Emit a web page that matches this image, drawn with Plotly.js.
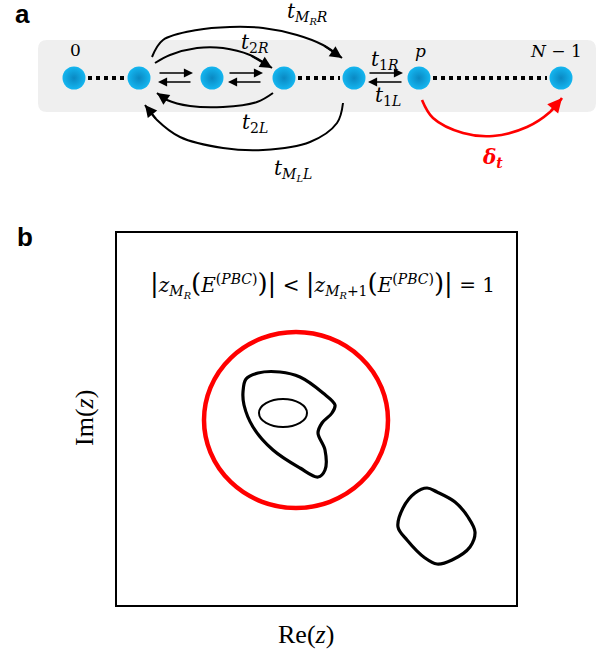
<!DOCTYPE html>
<html>
<head>
<meta charset="utf-8">
<script src="https://cdn.plot.ly/plotly-3.0.1.min.js"></script>
<style>html,body{margin:0;padding:0;background:#fff;}#chart{width:605px;height:660px;}</style>
</head>
<body>
<div id="chart"></div>
<script>
// ---------- Panel a data ----------
var nodeX = [74, 139, 212, 284, 354, 419, 561];
var nodeY = [78, 78, 78, 78, 78, 78, 78];
var nodeLabelText = ['0', '<i>p</i>', '<i>N</i> − 1'];
var nodeLabelX = [75, 420, 556];
var nodeLabelY = [50, 51, 51];

var bandX = [38, 596];
var bandY = [40, 112];

var dotSegX = [[88, 126], [298, 340], [433, 547]];
var dotSegY = [78, 78, 78];

var rightArrowX = [[158, 193], [228, 263], [368, 403]];
var rightArrowY = 73;
var leftArrowX = [[192, 158], [262, 228], [403, 368]];
var leftArrowY = 82;

var arcMRR_x = [152, 163, 197, 230, 263, 297, 323, 342];
var arcMRR_y = [57, 40, 30, 27, 28, 35, 45, 58];
var arc2R_x = [155, 170, 197, 223, 250, 272];
var arc2R_y = [63, 55, 48, 48, 55, 68];
var arc2L_x = [273, 257, 223, 190, 167, 157];
var arc2L_y = [93, 102, 107, 106, 100, 93];
var arcMLL_x = [343, 337, 310, 263, 223, 180, 157, 145];
var arcMLL_y = [103, 123, 142, 150, 148, 137, 120, 105];
var arcDelta_x = [422, 433, 463, 493, 527, 550, 562];
var arcDelta_y = [100, 118, 133, 136, 127, 112, 98];

var hopLabels = ['<i>t</i><sub><i>M</i><sub><i>R</i></sub><i>R</i></sub>',
                 '<i>t</i><sub>2<i>R</i></sub>',
                 '<i>t</i><sub>2<i>L</i></sub>',
                 '<i>t</i><sub><i>M</i><sub><i>L</i></sub><i>L</i></sub>',
                 '<i>t</i><sub>1<i>R</i></sub>',
                 '<i>t</i><sub>1<i>L</i></sub>'];
var hopLabelX = [307, 255, 255, 293, 385, 388];
var hopLabelY = [13, 43, 123, 170, 60, 96];
var deltaLabel = '<b><i>δ</i><sub><i>t</i></sub></b>';
var deltaLabelX = 492, deltaLabelY = 158;

// ---------- Panel b data ----------
var boxX = [117, 516];
var boxY = [233, 605];
var redCircleX = [204, 388];
var redCircleY = [332, 508];
var innerEllipseX = [259, 307];
var innerEllipseY = [399, 427];
var loopA_x = [243, 246, 258, 280, 300, 323, 335, 332, 322, 318, 325, 325, 318, 300, 273, 253, 244, 243];
var loopA_y = [392, 379, 373, 372, 377, 393, 405, 413, 423, 433, 450, 470, 477, 468, 450, 427, 405, 392];
var loopB_x = [437, 455, 468, 475, 470, 452, 437, 425, 407, 398, 403, 415, 427, 437];
var loopB_y = [492, 502, 517, 532, 547, 560, 564, 558, 540, 527, 508, 493, 488, 492];
var big = function (s) { return '<span style="font-size:26px">' + s + '</span>'; };
var formula = big('|') + '<i>z</i><sub><i>M</i><sub><i>R</i></sub></sub>' + big('(') + '<i>E</i><sup>(<i>PBC</i>)</sup>' + big(')|') +
  ' &lt; ' + big('|') + '<i>z</i><sub><i>M</i><sub><i>R</i></sub>+1</sub>' + big('(') + '<i>E</i><sup>(<i>PBC</i>)</sup>' + big(')|') + ' = 1';
var formulaX = 322, formulaY = 284;
var xTitle = 'Re(<i>z</i>)';
var yTitle = 'Im(<i>z</i>)';

var SERIF = 'DejaVu Serif';
var traces = [];
var annotations = [];

// dotted chains
dotSegX.forEach(function (s, i) {
  traces.push({x: s, y: [dotSegY[i], dotSegY[i]], mode: 'lines', xaxis: 'x', yaxis: 'y',
    line: {color: '#000', width: 4, dash: '4px,4px'}, hoverinfo: 'skip', showlegend: false});
});

// straight hopping arrows
function straight(xs, y) {
  annotations.push({x: xs[1], y: y, ax: xs[0], ay: y, xref: 'x', yref: 'y', axref: 'x', ayref: 'y',
    text: '', showarrow: true, arrowhead: 2, arrowsize: 1.3, arrowwidth: 1.4, arrowcolor: '#000'});
}
rightArrowX.forEach(function (s) { straight(s, rightArrowY); });
leftArrowX.forEach(function (s) { straight(s, leftArrowY); });

// curved arrows: spline body + arrow head on the last leg
function curve(xs, ys, color, width, size) {
  var n = xs.length;
  traces.push({x: xs, y: ys, mode: 'lines', xaxis: 'x', yaxis: 'y',
    line: {color: color, width: width, shape: 'spline', smoothing: 1}, hoverinfo: 'skip', showlegend: false});
  annotations.push({x: xs[n - 1], y: ys[n - 1], ax: xs[n - 2], ay: ys[n - 2],
    xref: 'x', yref: 'y', axref: 'x', ayref: 'y', text: '', showarrow: true,
    arrowhead: 2, arrowsize: size, arrowwidth: width, arrowcolor: color});
}
curve(arcMRR_x, arcMRR_y, '#000', 2, 1.2);
curve(arc2R_x, arc2R_y, '#000', 2, 1.2);
curve(arc2L_x, arc2L_y, '#000', 2, 1.2);
curve(arcMLL_x, arcMLL_y, '#000', 2, 1.2);
curve(arcDelta_x, arcDelta_y, '#ff0000', 2.6, 1.1);

// nodes
traces.push({x: nodeX, y: nodeY, mode: 'markers', xaxis: 'x', yaxis: 'y',
  marker: {size: 23, color: '#14b6f0', gradient: {type: 'radial', color: '#0a88c2'}, line: {width: 0}},
  hoverinfo: 'skip', showlegend: false});

// panel b loops
traces.push({x: loopA_x, y: loopA_y, mode: 'lines', xaxis: 'x2', yaxis: 'y2',
  line: {color: '#000', width: 3.2, shape: 'spline', smoothing: 1}, hoverinfo: 'skip', showlegend: false});
traces.push({x: loopB_x, y: loopB_y, mode: 'lines', xaxis: 'x2', yaxis: 'y2',
  line: {color: '#000', width: 3.2, shape: 'spline', smoothing: 1}, hoverinfo: 'skip', showlegend: false});

// shapes
var r = 9;
var bandPath = 'M' + (bandX[0] + r) + ',' + bandY[0] + ' L' + (bandX[1] - r) + ',' + bandY[0] +
  ' Q' + bandX[1] + ',' + bandY[0] + ' ' + bandX[1] + ',' + (bandY[0] + r) +
  ' L' + bandX[1] + ',' + (bandY[1] - r) +
  ' Q' + bandX[1] + ',' + bandY[1] + ' ' + (bandX[1] - r) + ',' + bandY[1] +
  ' L' + (bandX[0] + r) + ',' + bandY[1] +
  ' Q' + bandX[0] + ',' + bandY[1] + ' ' + bandX[0] + ',' + (bandY[1] - r) +
  ' L' + bandX[0] + ',' + (bandY[0] + r) +
  ' Q' + bandX[0] + ',' + bandY[0] + ' ' + (bandX[0] + r) + ',' + bandY[0] + ' Z';

var shapes = [
  {type: 'path', path: bandPath, xref: 'x', yref: 'y', fillcolor: '#efefef', line: {width: 0}, layer: 'below'},
  {type: 'circle', xref: 'x2', yref: 'y2', x0: redCircleX[0], x1: redCircleX[1], y0: redCircleY[0], y1: redCircleY[1],
    line: {color: '#ff0000', width: 4.5}},
  {type: 'circle', xref: 'x2', yref: 'y2', x0: innerEllipseX[0], x1: innerEllipseX[1], y0: innerEllipseY[0], y1: innerEllipseY[1],
    line: {color: '#000', width: 2}}
];

// text
function txt(t, x, y, size, color, family) {
  return {text: t, x: x, y: y, xref: 'x', yref: 'y', showarrow: false,
    xanchor: 'center', yanchor: 'middle', font: {size: size, color: color || '#000', family: family || SERIF}};
}
nodeLabelText.forEach(function (t, i) { annotations.push(txt(t, nodeLabelX[i], nodeLabelY[i], 17)); });
hopLabels.forEach(function (t, i) { annotations.push(txt(t, hopLabelX[i], hopLabelY[i], 20)); });
annotations.push(txt(deltaLabel, deltaLabelX, deltaLabelY, 20, '#ff0000'));
annotations.push(txt('<b>a</b>', 22, 14, 26, '#000', 'Liberation Sans'));
annotations.push(txt('<b>b</b>', 25, 237, 26, '#000', 'Liberation Sans'));
annotations.push(txt(formula, formulaX, formulaY, 20, '#000', SERIF));
annotations.push(txt(xTitle, 306, 634, 26, '#000', 'Liberation Serif'));
annotations.push({text: yTitle, x: 84, y: 418, xref: 'x', yref: 'y', showarrow: false, textangle: -90,
  xanchor: 'center', yanchor: 'middle', font: {size: 26, color: '#000', family: 'Liberation Serif'}});

var layout = {
  width: 605, height: 660,
  margin: {l: 0, r: 0, t: 0, b: 0},
  paper_bgcolor: '#ffffff', plot_bgcolor: 'rgba(0,0,0,0)',
  showlegend: false,
  xaxis: {domain: [0, 1], range: [0, 605], visible: false, fixedrange: true},
  yaxis: {domain: [0, 1], range: [660, 0], visible: false, fixedrange: true},
  xaxis2: {domain: [boxX[0] / 605, boxX[1] / 605], range: boxX, anchor: 'y2',
    showline: true, mirror: true, linecolor: '#000', linewidth: 1.6,
    showgrid: false, zeroline: false, showticklabels: false, ticks: ''},
  yaxis2: {domain: [1 - boxY[1] / 660, 1 - boxY[0] / 660], range: [boxY[1], boxY[0]], anchor: 'x2',
    showline: true, mirror: true, linecolor: '#000', linewidth: 1.6,
    showgrid: false, zeroline: false, showticklabels: false, ticks: ''},
  shapes: shapes,
  annotations: annotations
};

Plotly.newPlot('chart', traces, layout, {displayModeBar: false, staticPlot: true});
</script>
</body>
</html>
